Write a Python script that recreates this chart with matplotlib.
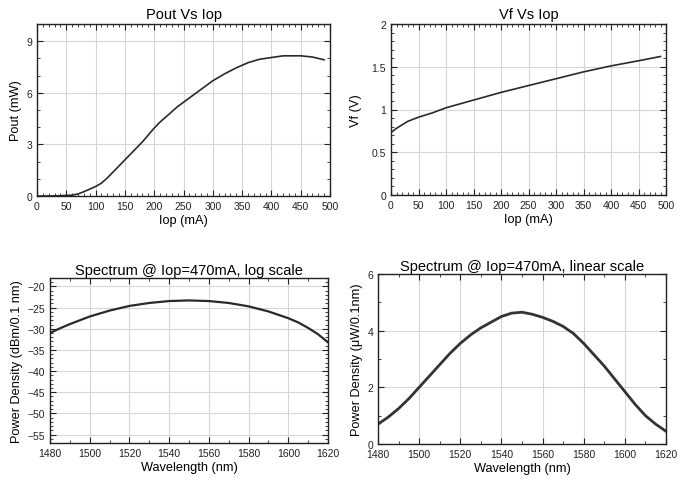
import matplotlib
matplotlib.use("Agg")
import matplotlib.pyplot as plt
from matplotlib.ticker import AutoMinorLocator

plt.rcParams['font.family'] = ['Liberation Sans', 'DejaVu Sans']

# Pout vs Iop
iop_p = [0, 20, 40, 60, 70, 80, 90, 100, 110, 120, 130, 140, 150, 160, 170, 180,
         190, 200, 210, 220, 230, 240, 250, 260, 270, 280, 290, 300, 320, 340,
         360, 380, 400, 420, 450, 470, 490]
pout = [0.0, 0.0, 0.02, 0.05, 0.12, 0.25, 0.4, 0.55, 0.75, 1.05, 1.4, 1.75, 2.1,
        2.45, 2.8, 3.15, 3.55, 3.95, 4.3, 4.6, 4.9, 5.2, 5.45, 5.7, 5.95, 6.2,
        6.45, 6.7, 7.1, 7.45, 7.75, 7.95, 8.05, 8.15, 8.15, 8.08, 7.92]

# Vf vs Iop
iop_v = [0, 10, 20, 30, 50, 75, 100, 150, 200, 250, 300, 350, 400, 450, 490]
vf = [0.73, 0.78, 0.82, 0.86, 0.91, 0.96, 1.02, 1.11, 1.2, 1.28, 1.36, 1.44, 1.51, 1.57, 1.62]

# spectrum, log scale
wl_log = [1480, 1485, 1490, 1495, 1500, 1510, 1520, 1530, 1540, 1550, 1560, 1570,
          1580, 1590, 1600, 1605, 1610, 1615, 1620]
p_dbm = [-31.0, -29.9, -28.9, -28.0, -27.1, -25.7, -24.6, -23.9, -23.45, -23.3,
         -23.45, -23.9, -24.7, -25.9, -27.5, -28.5, -29.8, -31.3, -33.2]

# spectrum, linear scale
wl_lin = [1480, 1485, 1490, 1495, 1500, 1505, 1510, 1515, 1520, 1525, 1530, 1535,
          1540, 1545, 1550, 1555, 1560, 1565, 1570, 1575, 1580, 1585, 1590, 1595,
          1600, 1605, 1610, 1615, 1620]
p_uw = [0.70, 0.95, 1.25, 1.6, 2.0, 2.4, 2.8, 3.2, 3.55, 3.85, 4.1, 4.3, 4.5, 4.62,
        4.65, 4.58, 4.47, 4.33, 4.15, 3.9, 3.55, 3.15, 2.75, 2.3, 1.85, 1.4, 1.0,
        0.7, 0.45]

W, H = 685, 489
fig = plt.figure(figsize=(W / 100, H / 100), dpi=100)


def make_axes(left, right, top, bottom):
    ax = fig.add_axes([left / W, (H - bottom) / H, (right - left) / W, (bottom - top) / H])
    ax.grid(True, color='#d6d6d6', linewidth=0.8)
    ax.set_axisbelow(True)
    ax.tick_params(which='both', direction='in', top=True, right=True,
                   labelsize=7.5, colors='#222222')
    ax.tick_params(which='major', length=4)
    ax.tick_params(which='minor', length=2)
    for s in ax.spines.values():
        s.set_color('#222222')
        s.set_linewidth(1.0)
    return ax


line_kw = dict(color='#2a2a2a', linewidth=1.2)

ax1 = make_axes(37, 330, 25, 197)
ax1.plot(iop_p, pout, **line_kw)
ax1.set_xlim(0, 500)
ax1.set_ylim(0, 10)
ax1.set_xticks(range(0, 501, 50))
ax1.set_yticks([0, 3, 6, 9])
ax1.xaxis.set_minor_locator(AutoMinorLocator(5))
ax1.yaxis.set_minor_locator(AutoMinorLocator(3))
ax1.set_title("Pout Vs Iop", fontsize=10.5, pad=4)
ax1.set_xlabel("Iop (mA)", fontsize=9.2, labelpad=2)
ax1.set_ylabel("Pout (mW)", fontsize=9.2, labelpad=3)

ax2 = make_axes(391, 666, 25, 196)
ax2.plot(iop_v, vf, **line_kw)
ax2.set_xlim(0, 500)
ax2.set_ylim(0, 2)
ax2.set_xticks(range(0, 501, 50))
ax2.set_yticks([0, 0.5, 1, 1.5, 2])
ax2.set_yticklabels(['0', '0.5', '1', '1.5', '2'])
ax2.xaxis.set_minor_locator(AutoMinorLocator(5))
ax2.yaxis.set_minor_locator(AutoMinorLocator(5))
ax2.set_title("Vf Vs Iop", fontsize=10.5, pad=4)
ax2.set_xlabel("Iop (mA)", fontsize=9.2, labelpad=2)
ax2.set_ylabel("Vf (V)", fontsize=9.2, labelpad=7)

ax3 = make_axes(50, 328, 279, 444)
ax3.plot(wl_log, p_dbm, color='#2a2a2a', linewidth=1.6)
ax3.set_xlim(1480, 1620)
ax3.set_ylim(-57, -18)
ax3.set_xticks(range(1480, 1621, 20))
ax3.set_yticks(range(-55, -19, 5))
ax3.xaxis.set_minor_locator(AutoMinorLocator(2))
ax3.yaxis.set_minor_locator(AutoMinorLocator(5))
ax3.set_title("Spectrum @ Iop=470mA, log scale", fontsize=10.5, pad=3)
ax3.set_xlabel("Wavelength (nm)", fontsize=9.2, labelpad=2)
ax3.set_ylabel("Power Density (dBm/0.1 nm)", fontsize=9.2, labelpad=3)

ax4 = make_axes(378, 666, 275, 445)
ax4.plot(wl_lin, p_uw, color='#333333', linewidth=2.0)
ax4.set_xlim(1480, 1620)
ax4.set_ylim(0, 6)
ax4.set_xticks(range(1480, 1621, 20))
ax4.set_yticks([0, 2, 4, 6])
ax4.xaxis.set_minor_locator(AutoMinorLocator(2))
ax4.yaxis.set_minor_locator(AutoMinorLocator(2))
ax4.set_title("Spectrum @ Iop=470mA, linear scale", fontsize=10.5, pad=3)
ax4.set_xlabel("Wavelength (nm)", fontsize=9.2, labelpad=2)
ax4.set_ylabel("Power Density (μW/0.1nm)", fontsize=9.2, labelpad=3)

fig.savefig("out.png", dpi=100)
